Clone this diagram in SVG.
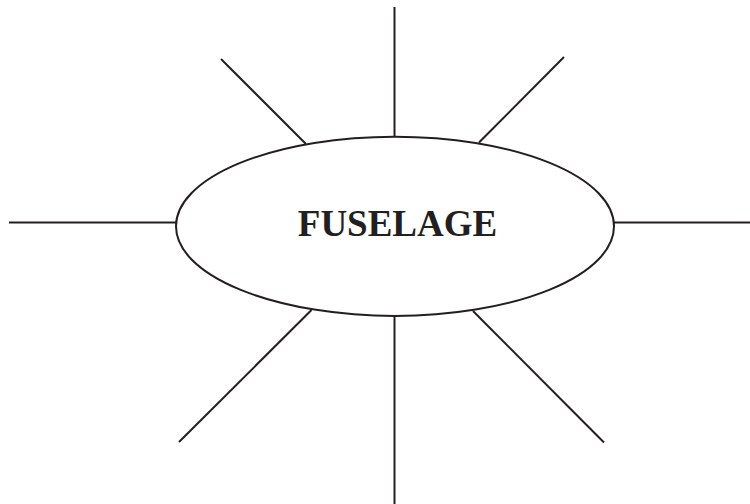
<svg xmlns="http://www.w3.org/2000/svg" width="750" height="504" viewBox="0 0 750 504">
<style>
.ln{stroke:#231f20;stroke-width:2;fill:none}
.node{fill:#fff;stroke:#231f20;stroke-width:2}
.lbl{font-family:"Liberation Serif","Times New Roman",serif;font-weight:bold;font-size:37px;fill:#231f20;text-anchor:middle}
</style>
<rect width="750" height="504" fill="#fff"/>
<g id="connectors">
<line class="ln" x1="394.5" y1="7" x2="394.5" y2="137"/>
<line class="ln" x1="394.5" y1="316" x2="394.5" y2="504"/>
<line class="ln" x1="9" y1="222.5" x2="177" y2="222.5"/>
<line class="ln" x1="613" y1="222.5" x2="750" y2="222.5"/>
<line class="ln" x1="221" y1="59" x2="306" y2="144"/>
<line class="ln" x1="564" y1="57" x2="479" y2="142.5"/>
<line class="ln" x1="311.5" y1="310" x2="179" y2="442"/>
<line class="ln" x1="473" y1="311" x2="604" y2="442.5"/>
</g>
<g id="fuselage">
<ellipse class="node" cx="395" cy="226.3" rx="219" ry="89.6"/>
<text class="lbl" x="397.5" y="235.5">FUSELAGE</text>
</g>
</svg>
